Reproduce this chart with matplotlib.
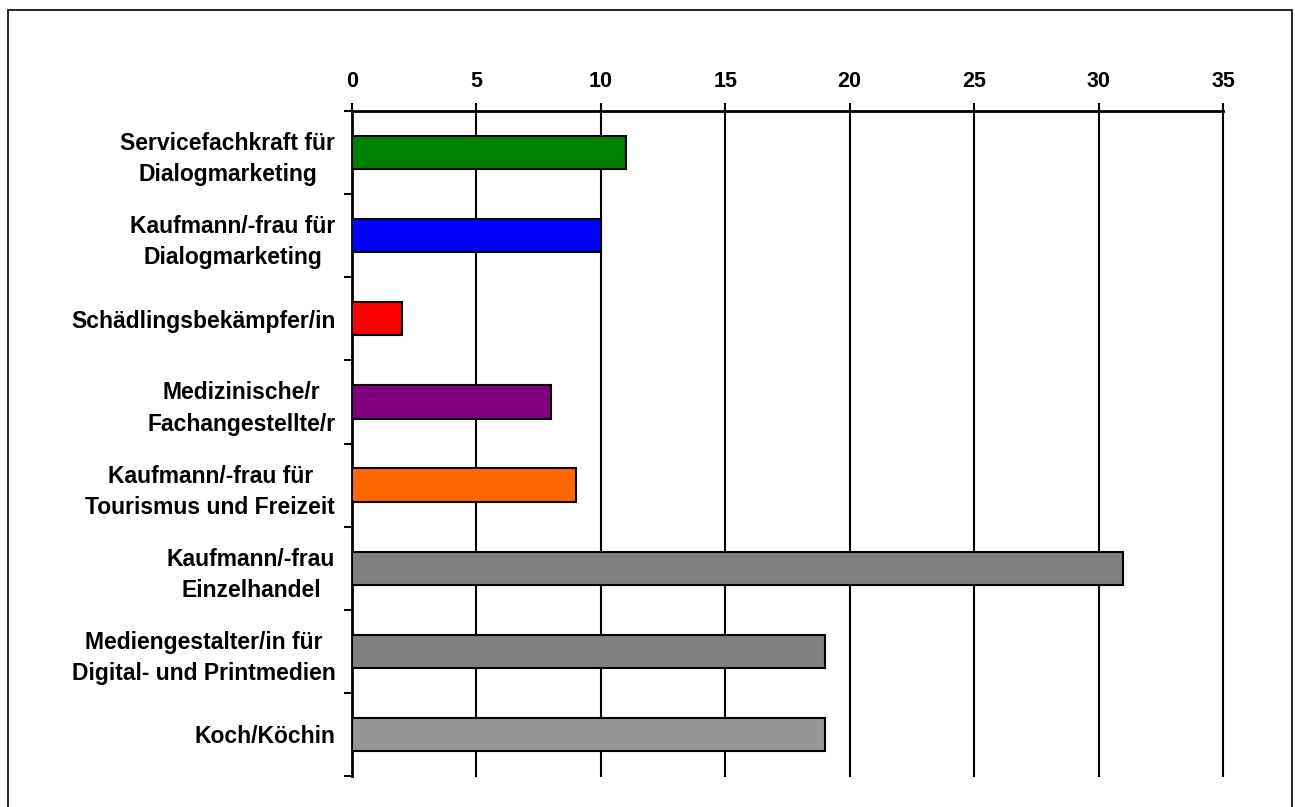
import numpy as np
import matplotlib.pyplot as plt
from matplotlib.patches import Rectangle

# data
categories = ['Servicefachkraft für\nDialogmarketing',
              'Kaufmann/-frau für\nDialogmarketing',
              'Schädlingsbekämpfer/in',
              'Medizinische/r\nFachangestellte/r',
              'Kaufmann/-frau für\nTourismus und Freizeit',
              'Kaufmann/-frau\nEinzelhandel',
              'Mediengestalter/in für\nDigital- und Printmedien',
              'Koch/Köchin']
values = [11, 10, 2, 8, 9, 31, 19, 19]
colors = ['#008000', '#0000FF', '#FF0000', '#800080', '#FF6600',
          '#808080', '#808080', '#969696']
xticks = [0, 5, 10, 15, 20, 25, 30, 35]

plt.rcParams['font.family'] = ['Liberation Sans', 'DejaVu Sans']
plt.rcParams['font.weight'] = 'bold'

W, H = 1295, 807
fig = plt.figure(figsize=(W / 100, H / 100), dpi=100)
ax = fig.add_axes([352 / W, 1 - 776 / H, (1223 - 352) / W, (776 - 111) / H])

# outer frame
fig.patches.append(Rectangle((8 / W, 1 - 812 / H), (1292 - 8) / W, (812 - 10) / H,
                             transform=fig.transFigure, fill=False,
                             edgecolor='black', linewidth=1.2))

y = np.arange(len(categories))
ax.barh(y, values, height=0.4, color=colors, edgecolor='black', linewidth=1.5, zorder=3)

ax.set_xlim(0, 35)
ax.set_ylim(len(categories) - 0.5, -0.5)
ax.xaxis.tick_top()
ax.set_xticks(xticks)
ax.tick_params(axis='x', length=6, width=1.5, pad=8, labelsize=15.5)

ax.set_yticks(np.arange(len(categories) + 1) - 0.5)
ax.set_yticklabels([])
ax.set_yticks(y, minor=True)
ax.set_yticklabels(categories, minor=True, ha='right', multialignment='center',
                   fontsize=16.5, linespacing=1.45)
ax.tick_params(axis='y', which='major', length=6, width=1.5)
ax.tick_params(axis='y', which='minor', length=0, pad=12)

for x in xticks[1:]:
    ax.axvline(x, color='black', linewidth=1.5, zorder=1, clip_on=False)

for s in ['right', 'bottom']:
    ax.spines[s].set_visible(False)
ax.spines['top'].set_linewidth(2)
ax.spines['left'].set_linewidth(2)

fig.savefig('out.png', dpi=100)
